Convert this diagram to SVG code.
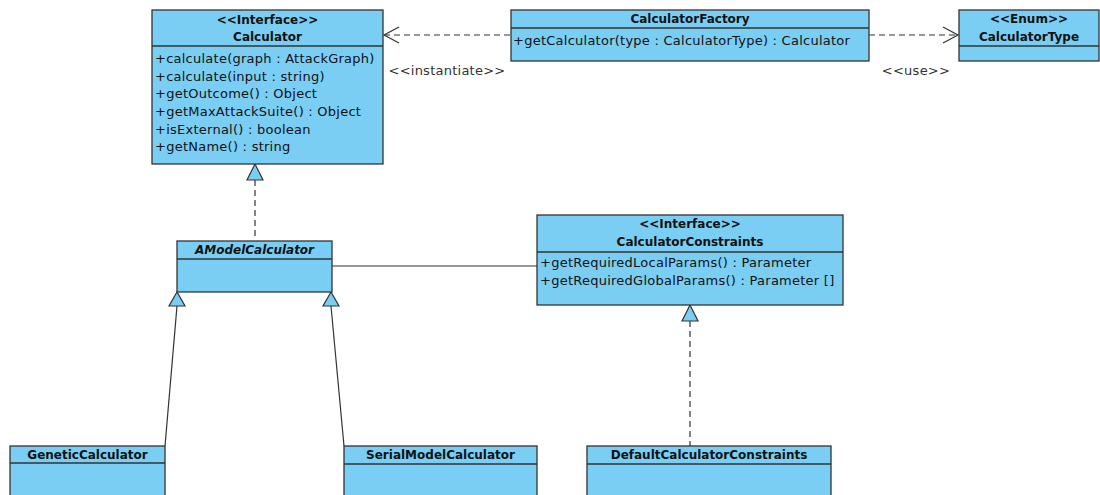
<svg xmlns="http://www.w3.org/2000/svg" width="1100" height="495" viewBox="0 0 1100 495">
<style>
.box{fill:#7acef4;stroke:#333;stroke-width:1.3}
.sep{stroke:#333;stroke-width:1.3}
.t{font-family:"DejaVu Sans",sans-serif;font-size:13px;letter-spacing:0.25px;fill:#111}
.b{font-family:"DejaVu Sans",sans-serif;font-size:12px;font-weight:bold;fill:#111;text-anchor:middle}
.i{font-style:italic}
.lbl{font-family:"DejaVu Sans",sans-serif;font-size:13px;letter-spacing:0.25px;fill:#333;text-anchor:middle}
.line{stroke:#333;stroke-width:1.2;fill:none}
.dash{stroke:#333;stroke-width:1.2;fill:none;stroke-dasharray:6,4}
.tri{fill:#7acef4;stroke:#333;stroke-width:1.2}
</style>
<rect width="1100" height="495" fill="#fff"/>
<g id="connectors">
  <line class="dash" x1="510" y1="35" x2="384" y2="35"/>
  <polyline class="line" points="399,27 384,35 399,43"/>
  <text class="lbl" x="447" y="75">&lt;&lt;instantiate&gt;&gt;</text>
  <line class="dash" x1="869" y1="35" x2="958" y2="35"/>
  <polyline class="line" points="943,27 958,35 943,43"/>
  <text class="lbl" x="916" y="75">&lt;&lt;use&gt;&gt;</text>
  <line class="dash" x1="255" y1="180" x2="255" y2="240"/>
  <polygon class="tri" points="255,164 247,180 263,180"/>
  <line class="line" x1="332" y1="266" x2="537" y2="266"/>
  <line class="line" x1="177" y1="306" x2="165" y2="446"/>
  <polygon class="tri" points="177,292 169,306 185,306"/>
  <line class="line" x1="331" y1="306" x2="344" y2="446"/>
  <polygon class="tri" points="331,292 323,306 339,306"/>
  <line class="dash" x1="690" y1="321" x2="690" y2="446"/>
  <polygon class="tri" points="690,305 682,321 698,321"/>
</g>
<g id="Calculator">
  <rect class="box" x="152" y="10" width="231" height="154"/>
  <line class="sep" x1="152" y1="46" x2="383" y2="46"/>
  <text class="b" x="267.5" y="24">&lt;&lt;Interface&gt;&gt;</text>
  <text class="b" x="267.5" y="41">Calculator</text>
  <text class="t" x="155" y="63">+calculate(graph : AttackGraph)</text>
  <text class="t" x="155" y="81">+calculate(input : string)</text>
  <text class="t" x="155" y="98">+getOutcome() : Object</text>
  <text class="t" x="155" y="116">+getMaxAttackSuite() : Object</text>
  <text class="t" x="155" y="134">+isExternal() : boolean</text>
  <text class="t" x="155" y="151">+getName() : string</text>
</g>
<g id="CalculatorFactory">
  <rect class="box" x="511" y="10" width="358" height="51"/>
  <line class="sep" x1="511" y1="28" x2="869" y2="28"/>
  <text class="b" x="690" y="23">CalculatorFactory</text>
  <text class="t" x="513" y="45">+getCalculator(type : CalculatorType) : Calculator</text>
</g>
<g id="CalculatorType">
  <rect class="box" x="959" y="10" width="140" height="51"/>
  <line class="sep" x1="959" y1="46" x2="1099" y2="46"/>
  <text class="b" x="1029" y="23">&lt;&lt;Enum&gt;&gt;</text>
  <text class="b" x="1029" y="41">CalculatorType</text>
</g>
<g id="AModelCalculator">
  <rect class="box" x="177" y="241" width="155" height="51"/>
  <line class="sep" x1="177" y1="259" x2="332" y2="259"/>
  <text class="b i" x="254.5" y="254">AModelCalculator</text>
</g>
<g id="CalculatorConstraints">
  <rect class="box" x="537" y="215" width="306" height="90"/>
  <line class="sep" x1="537" y1="252" x2="843" y2="252"/>
  <text class="b" x="690" y="228">&lt;&lt;Interface&gt;&gt;</text>
  <text class="b" x="690" y="246">CalculatorConstraints</text>
  <text class="t" x="540" y="267">+getRequiredLocalParams() : Parameter</text>
  <text class="t" x="540" y="285">+getRequiredGlobalParams() : Parameter []</text>
</g>
<g id="GeneticCalculator">
  <rect class="box" x="10" y="446" width="155" height="60"/>
  <line class="sep" x1="10" y1="463" x2="165" y2="463"/>
  <text class="b" x="87.5" y="459">GeneticCalculator</text>
</g>
<g id="SerialModelCalculator">
  <rect class="box" x="344" y="446" width="193" height="60"/>
  <line class="sep" x1="344" y1="464" x2="537" y2="464"/>
  <text class="b" x="440.5" y="459">SerialModelCalculator</text>
</g>
<g id="DefaultCalculatorConstraints">
  <rect class="box" x="587" y="446" width="244" height="60"/>
  <line class="sep" x1="587" y1="464" x2="831" y2="464"/>
  <text class="b" x="709" y="459">DefaultCalculatorConstraints</text>
</g>
</svg>
